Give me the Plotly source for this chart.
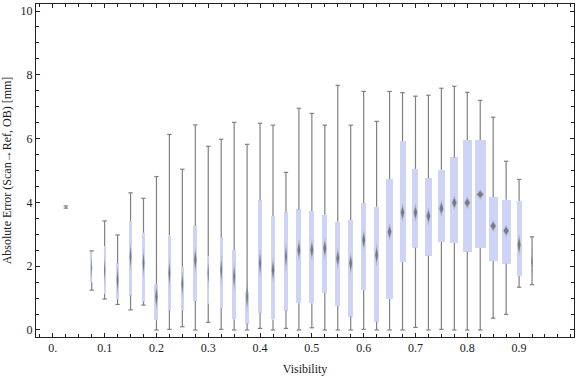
import plotly.graph_objects as go

# ---- data ----
visibility = [0.025, 0.075, 0.1, 0.125, 0.15, 0.175, 0.2, 0.225, 0.25, 0.275,
              0.3, 0.325, 0.35, 0.375, 0.4, 0.425, 0.45, 0.475, 0.5, 0.525,
              0.55, 0.575, 0.6, 0.625, 0.65, 0.675, 0.7, 0.725, 0.75, 0.775,
              0.8, 0.825, 0.85, 0.875, 0.9, 0.925]
whisker_low = [3.82, 1.25, 0.97, 0.80, 0.63, 0.78, 0.00, 0.02, 0.10, 0.00,
               0.24, 0.02, 0.00, 0.00, 0.05, 0.00, 0.05, 0.00, 0.07, 0.00,
               0.00, 0.00, 0.02, 0.00, 0.00, 0.00, 0.08, 0.00, 0.02, 0.00,
               0.00, 0.00, 0.37, 0.49, 1.34, 1.42]
quart1 = [3.85, 1.50, 1.13, 0.97, 1.08, 0.89, 0.31, 0.63, 0.63, 0.91,
          0.82, 0.69, 0.34, 0.20, 0.54, 0.33, 0.61, 0.84, 0.84, 1.17,
          0.75, 0.42, 1.25, 0.26, 0.97, 2.13, 2.58, 2.33, 2.76, 2.73,
          2.45, 2.57, 2.16, 2.08, 1.69, 1.91]
median = [3.86, 1.95, 1.88, 1.57, 2.30, 2.10, 1.04, 1.78, 1.44, 2.20,
          1.78, 1.88, 1.67, 1.04, 2.09, 1.88, 2.30, 2.51, 2.51, 2.56,
          2.25, 2.09, 2.82, 2.35, 3.08, 3.68, 3.68, 3.57, 3.81, 3.99,
          3.99, 4.25, 3.26, 3.11, 2.67, 2.14]
quart3 = [3.87, 2.47, 2.63, 2.09, 3.42, 3.05, 1.44, 2.96, 1.98, 3.26,
          2.30, 2.91, 2.51, 1.19, 4.07, 3.57, 3.69, 3.78, 3.73, 3.61,
          3.39, 3.45, 3.98, 3.86, 4.73, 5.92, 5.05, 4.76, 5.02, 5.41,
          5.96, 5.96, 4.17, 4.08, 4.04, 2.36]
whisker_high = [3.89, 2.48, 3.42, 2.98, 4.30, 4.13, 4.81, 6.13, 5.04, 6.43,
                5.76, 5.98, 6.51, 5.82, 6.48, 6.42, 4.94, 6.95, 6.79, 6.42,
                7.67, 6.42, 7.48, 6.54, 7.48, 7.44, 7.33, 7.36, 7.58, 7.64,
                7.45, 7.20, 6.67, 5.29, 4.72, 2.92]
# relative box widths (sample-size proxy)
box_weight = [1.0, 1.5, 2.0, 3.0, 3.0, 3.0, 4.0, 3.0, 3.0, 4.0,
              2.0, 3.0, 3.5, 3.5, 3.5, 4.3, 3.3, 5.0, 5.0, 5.0,
              5.0, 5.0, 5.0, 4.7, 6.3, 6.0, 6.0, 6.3, 6.7, 7.7,
              9.0, 11.0, 9.0, 9.0, 5.0, 2.7]

x_tick_vals = [0.0, 0.1, 0.2, 0.3, 0.4, 0.5, 0.6, 0.7, 0.8, 0.9]
x_tick_text = ["0.", "0.1", "0.2", "0.3", "0.4", "0.5", "0.6", "0.7", "0.8", "0.9"]

# ---- styling / geometry ----
X_RANGE = [-0.0325, 1.006]
Y_RANGE = [-0.22, 10.22]
PLOT_W_PX = 538.0
PLOT_H_PX = 333.0
px_x = (X_RANGE[1] - X_RANGE[0]) / PLOT_W_PX
px_y = (Y_RANGE[1] - Y_RANGE[0]) / PLOT_H_PX

BOX_COLOR = "rgb(205,212,245)"
WHISKER_COLOR = "rgb(128,128,128)"
FONT = dict(family="Liberation Serif, Times New Roman, serif", size=12, color="#222")

widths = [w * px_x for w in box_weight]

fig = go.Figure()

# boxes
fig.add_trace(go.Bar(
    x=visibility,
    y=[b - a for a, b in zip(quart1, quart3)],
    base=quart1,
    width=widths,
    marker=dict(color=BOX_COLOR, line=dict(width=0)),
    hoverinfo="skip",
    showlegend=False,
))

# whiskers and caps
wx, wy = [], []
cx, cy = [], []
cap_half = 2.2 * px_x
for xv, lo, a, b, hi in zip(visibility, whisker_low, quart1, quart3, whisker_high):
    wx += [xv, xv, None, xv, xv, None]
    wy += [lo, a, None, b, hi, None]
    cx += [xv - cap_half, xv + cap_half, None, xv - cap_half, xv + cap_half, None]
    cy += [lo, lo, None, hi, hi, None]
fig.add_trace(go.Scatter(x=wx, y=wy, mode="lines",
                         line=dict(color=WHISKER_COLOR, width=1.2),
                         hoverinfo="skip", showlegend=False))
fig.add_trace(go.Scatter(x=cx, y=cy, mode="lines",
                         line=dict(color=WHISKER_COLOR, width=1.2),
                         hoverinfo="skip", showlegend=False))

# median diamonds (blurred look: faint outer + darker inner)
for scale, col in [(1.0, "rgba(120,120,130,0.35)"), (0.6, "rgba(110,110,115,0.85)")]:
    dx, dy = [], []
    for xv, m, w in zip(visibility, median, box_weight):
        dw_px = max(0.9, 0.7 * w)
        dh_px = 1.5 if w < 1.2 else min(16.0, 40.0 / dw_px)
        hw = dw_px / 2 * px_x * (1.0 if scale == 1.0 else 0.8)
        hh = dh_px * px_y * scale
        dx += [xv - hw, xv, xv + hw, xv, xv - hw, None]
        dy += [m, m + hh, m, m - hh, m, None]
    fig.add_trace(go.Scatter(x=dx, y=dy, mode="lines", fill="toself",
                             fillcolor=col, line=dict(width=0, color=col),
                             hoverinfo="skip", showlegend=False))

axis_common = dict(
    showline=True, linecolor="#222", linewidth=1, mirror="ticks",
    ticks="inside", tickcolor="#222", ticklen=4, tickwidth=1,
    showgrid=False, zeroline=False, tickfont=FONT,
)

fig.update_xaxes(
    range=X_RANGE, tickmode="array", tickvals=x_tick_vals, ticktext=x_tick_text,
    minor=dict(ticks="inside", ticklen=3, tickcolor="#222", dtick=0.025, tick0=0,
               showgrid=False),
    title=dict(text="Visibility", font=FONT, standoff=10),
    **axis_common,
)
fig.update_yaxes(
    range=Y_RANGE, tickmode="linear", tick0=0, dtick=2,
    minor=dict(ticks="inside", ticklen=3, tickcolor="#222", dtick=0.5, tick0=0,
               showgrid=False),
    title=dict(text="Absolute Error (Scan\u2192Ref, OB) [mm]", font=FONT, standoff=6),
    **axis_common,
)

fig.update_layout(
    width=576, height=377,
    margin=dict(l=36, r=2, t=4, b=40, autoexpand=False),
    plot_bgcolor="white", paper_bgcolor="white",
    font=FONT, barmode="overlay", bargap=0,
)

fig.write_html("out.html", config={"displayModeBar": False},
               post_script="document.body.style.margin='0';")
